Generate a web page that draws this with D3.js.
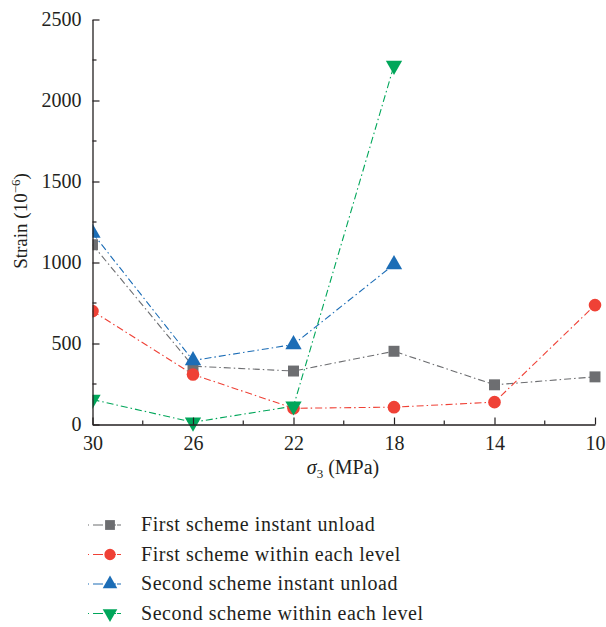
<!DOCTYPE html>
<html><head><meta charset="utf-8">
<script src="https://cdn.jsdelivr.net/npm/d3@7"></script>
<style>body{margin:0;background:#fff}svg{display:block}</style>
</head><body>
<script>
const sigma = [30, 26, 22, 18, 14, 10];
const firstInstant = [1110, 360, 330, 452, 245, 294];
const firstWithin = [700, 309, 100, 107, 138, 737];
const secondInstant = [1182, 395, 494, 988];
const secondWithin = [154, 14, 113, 2216];
const xTicks = [30, 26, 22, 18, 14, 10];
const yTicks = [0, 500, 1000, 1500, 2000, 2500];
const seriesNames = ["First scheme instant unload", "First scheme within each level", "Second scheme instant unload", "Second scheme within each level"];

const series = [
  {name: seriesNames[0], vals: firstInstant, color: "#6d6e71", shape: "square"},
  {name: seriesNames[1], vals: firstWithin, color: "#ef4136", shape: "circle"},
  {name: seriesNames[2], vals: secondInstant, color: "#1c6db6", shape: "up"},
  {name: seriesNames[3], vals: secondWithin, color: "#00a65a", shape: "down"}
];

const FONT = "'Liberation Serif', 'DejaVu Serif', serif";
const TXT = "#231f20";
const W = 606, H = 627;
const svg = d3.select("body").append("svg").attr("width", W).attr("height", H)
  .attr("font-family", FONT);
const x = d3.scaleLinear().domain([30, 10]).range([92.5, 595]);
const y = d3.scaleLinear().domain([0, 2500]).range([424.5, 19.5]);

svg.append("clipPath").attr("id", "clip").append("rect")
  .attr("x", 92.5).attr("y", 0).attr("width", 520).attr("height", 432);

function symbolPath(shape, k) {
  k = k || 1;
  if (shape === "square") return d3.symbol().type(d3.symbolSquare).size(120 * k)();
  if (shape === "circle") return d3.symbol().type(d3.symbolCircle).size(125 * k)();
  return d3.symbol().type(d3.symbolTriangle).size(115 * k)();
}

const dash = "7,3,1.5,3";
const line = d3.line().x((d, i) => x(sigma[i])).y(d => y(d));
const plot = svg.append("g").attr("clip-path", "url(#clip)");
series.forEach(s => {
  plot.append("path").attr("d", line(s.vals)).attr("fill", "none")
    .attr("stroke", s.color).attr("stroke-width", 1.1).attr("stroke-dasharray", dash);
});
series.forEach(s => {
  plot.selectAll(null).data(s.vals).enter().append("path")
    .attr("d", symbolPath(s.shape))
    .attr("transform", (d, i) => `translate(${x(sigma[i])},${y(d)})` + (s.shape === "down" ? " rotate(180)" : ""))
    .attr("fill", s.color);
});

// axes
const xAxis = d3.axisBottom(x).tickValues(xTicks).tickFormat(d3.format("d")).tickSizeInner(-7).tickSizeOuter(0).tickPadding(11);
const gx = svg.append("g").attr("transform", "translate(0,424.5)").call(xAxis).attr("font-family", FONT);
gx.selectAll(".tick text").attr("font-size", 20).attr("fill", TXT).attr("font-family", FONT);
gx.select(".domain").attr("stroke", TXT).attr("stroke-width", 1.3);
gx.selectAll(".tick line").attr("stroke", TXT).attr("stroke-width", 1.2);
gx.selectAll(".minor").data([28, 24, 20, 16, 12]).enter().append("line")
  .attr("x1", d => x(d)).attr("x2", d => x(d)).attr("y1", 0).attr("y2", -4)
  .attr("stroke", TXT).attr("stroke-width", 1.2);

const yAxis = d3.axisLeft(y).tickValues(yTicks).tickFormat(d3.format("d")).tickSizeInner(-7).tickSizeOuter(0).tickPadding(11);
const gy = svg.append("g").attr("transform", "translate(92.5,0)").call(yAxis).attr("font-family", FONT);
gy.selectAll(".tick text").attr("font-size", 20).attr("fill", TXT).attr("font-family", FONT);
gy.select(".domain").attr("stroke", TXT).attr("stroke-width", 1.3);
gy.selectAll(".tick line").attr("stroke", TXT).attr("stroke-width", 1.2);
gy.selectAll(".minor").data([250, 750, 1250, 1750, 2250]).enter().append("line")
  .attr("x1", 0).attr("x2", 4).attr("y1", d => y(d)).attr("y2", d => y(d))
  .attr("stroke", TXT).attr("stroke-width", 1.2);

// axis titles
const xt = svg.append("text").attr("x", 343).attr("y", 474).attr("text-anchor", "middle")
  .attr("font-size", 20).attr("fill", TXT).attr("font-family", FONT);
xt.append("tspan").attr("font-style", "italic").text("σ");
xt.append("tspan").attr("font-size", 13).attr("dy", 4).text("3");
xt.append("tspan").attr("dy", -4).text(" (MPa)");

const yt = svg.append("text").attr("transform", "translate(27,221) rotate(-90)").attr("text-anchor", "middle")
  .attr("font-size", 19).attr("fill", TXT).attr("font-family", FONT);
yt.append("tspan").text("Strain (10");
yt.append("tspan").attr("font-size", 13).attr("dy", -7).text("−6");
yt.append("tspan").attr("dy", 7).text(")");

// legend
const lg = svg.append("g");
series.forEach((s, i) => {
  const yy = 525 + i * 29.5;
  lg.append("line").attr("x1", 88).attr("x2", 130).attr("y1", yy).attr("y2", yy)
    .attr("stroke", s.color).attr("stroke-width", 1.1).attr("stroke-dasharray", "1,4,10,6,7");
  lg.append("path").attr("d", symbolPath(s.shape, 0.8))
    .attr("transform", `translate(110,${yy})` + (s.shape === "down" ? " rotate(180)" : ""))
    .attr("fill", s.color);
  lg.append("text").attr("x", 141).attr("y", yy + 6).attr("font-size", 20)
    .attr("letter-spacing", 0.55)
    .attr("fill", TXT).attr("font-family", FONT).text(s.name);
});
</script>
</body></html>
